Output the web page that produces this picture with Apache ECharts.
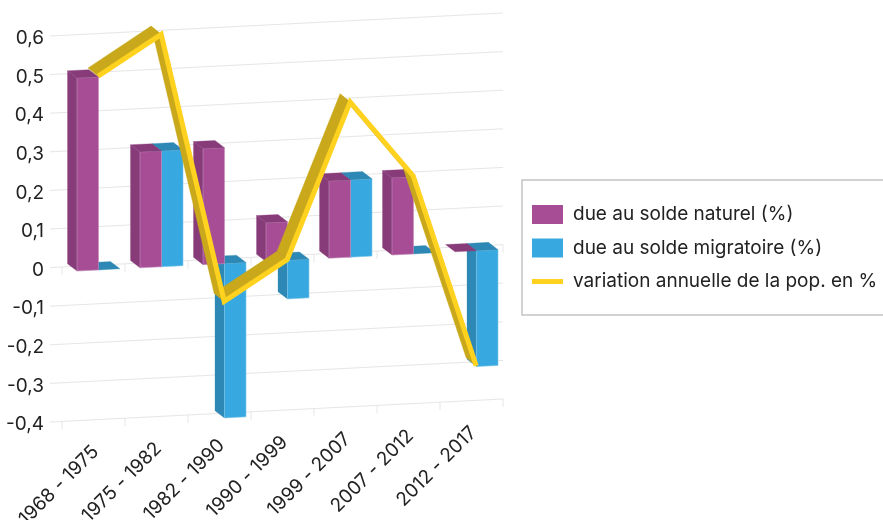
<!DOCTYPE html>
<html>
<head>
<meta charset="utf-8">
<style>
  html, body { margin: 0; padding: 0; background: #fff; }
  #chart { width: 883px; height: 520px; }
</style>
<script src="https://cdn.jsdelivr.net/npm/echarts@6/dist/echarts.min.js"></script>
</head>
<body>
<div id="chart"></div>
<script>
var categories = ['1968 - 1975', '1975 - 1982', '1982 - 1990', '1990 - 1999', '1999 - 2007', '2007 - 2012', '2012 - 2017']
var naturel = [0.5, 0.3, 0.3, 0.1, 0.2, 0.2, 0]
var migratoire = [0, 0.3, -0.4, -0.1, 0.2, 0, -0.3]
var variation = [0.5, 0.6, -0.1, 0, 0.4, 0.2, -0.3]
var valueTicks = [-0.4, -0.3, -0.2, -0.1, 0, 0.1, 0.2, 0.3, 0.4, 0.5, 0.6]
var tickedLines = [0, -0.4]

var fontFamily = 'Inter, "Noto Sans", sans-serif'
var textColor = '#222222'
var SLOPE = 0.0508 // the floor and the wall climb to the right
var FRONT = 4.8 // how far below the wall the bars stand
var DEPTH_X = -9.5
var DEPTH_Y = -7.3
var RIBBON_X = -11
var RIBBON_Y = -9
var BAR_W = 21.5
var BAR_SPLIT = 5

var colors = {
  purple: '#a64d96', purpleDark: '#873c79',
  blue: '#37a8e0', blueDark: '#2e88b5',
  yellow: '#ffd21f', yellowDark: '#c9a91b',
  grid: '#e6e6e6'
}

function shear(x, y, left) {
  return y - SLOPE * (x - left)
}

function front(api, params, cat, val, dx) {
  var p = api.coord([cat, val])
  var x = p[0] + dx
  return [x, shear(x, p[1], params.coordSys.x) + FRONT]
}

function back(p) {
  return [p[0] + DEPTH_X, p[1] + DEPTH_Y]
}

function poly(points, fill, stroke) {
  return {
    type: 'polygon',
    shape: { points: points },
    style: { fill: fill, stroke: stroke || fill, lineWidth: stroke ? 0.6 : 0.3 }
  }
}

function barRenderer(dxLeft, fill, dark, edge) {
  return function(params, api) {
    var cat = api.value(0)
    var val = api.value(1)
    var topVal = Math.max(val, 0)
    var botVal = Math.min(val, 0)
    var tl = front(api, params, cat, topVal, dxLeft)
    var tr = front(api, params, cat, topVal, dxLeft + BAR_W)
    var bl = front(api, params, cat, botVal, dxLeft)
    var br = front(api, params, cat, botVal, dxLeft + BAR_W)
    var children = []
    if (val !== 0) {
      children.push(poly([back(tl), tl, bl, back(bl)], dark))
      children.push(poly([tl, tr, br, bl], fill, edge))
    }
    children.push(poly([back(tl), back(tr), tr, tl], dark))
    return { type: 'group', children: children }
  }
}

function gridRenderer(params, api) {
  var v = api.value(1)
  var sys = params.coordSys
  var y = api.coord([0, v])[1]
  var xStart = sys.x - 12
  var xEnd = sys.x + sys.width
  var children = [{
    type: 'line',
    shape: { x1: xStart, y1: shear(xStart, y, sys.x), x2: xEnd, y2: shear(xEnd, y, sys.x) },
    style: { stroke: colors.grid, lineWidth: 1 }
  }]
  if (tickedLines.indexOf(v) >= 0) {
    var step = sys.width / categories.length
    for (var i = 0; i <= categories.length; i++) {
      var x = sys.x + i * step
      children.push({
        type: 'line',
        shape: { x1: x, y1: shear(x, y, sys.x), x2: x, y2: shear(x, y, sys.x) + 8 },
        style: { stroke: colors.grid, lineWidth: 1 }
      })
    }
  }
  return { type: 'group', children: children }
}

function ribbonRenderer(params, api) {
  if (params.dataIndex > 0) {
    return null
  }
  var pts = variation.map(function(v, i) {
    return front(api, params, i, v, BAR_SPLIT + 0.5)
  })
  var children = []
  for (var i = 0; i < pts.length - 1; i++) {
    var a = pts[i]
    var b = pts[i + 1]
    children.push(poly([[a[0] + RIBBON_X, a[1] + RIBBON_Y], a, b, [b[0] + RIBBON_X, b[1] + RIBBON_Y]], colors.yellowDark))
  }
  children.push({
    type: 'polyline',
    shape: { points: pts.map(function(p) { return [p[0] - 0.8, p[1] - 0.8] }) },
    style: { fill: 'none', stroke: colors.yellow, lineWidth: 5, lineJoin: 'miter' }
  })
  return { type: 'group', children: children }
}

function labelRenderer(params, api) {
  var i = api.value(0)
  var p = api.coord([i, -0.4])
  var x = p[0] + 2
  return {
    type: 'text',
    x: x,
    y: shear(x, p[1], params.coordSys.x) + 29,
    rotation: Math.PI / 4,
    style: {
      text: categories[i],
      fill: textColor,
      fontSize: 19,
      fontFamily: fontFamily,
      align: 'right',
      verticalAlign: 'middle'
    }
  }
}

function pairs(values) {
  return values.map(function(v, i) { return [i, v] })
}

var chart = echarts.init(document.getElementById('chart'))
chart.setOption({
  animation: false,
  backgroundColor: '#ffffff',
  grid: { left: 62, right: 380, top: 35.4, height: 386, containLabel: false },
  xAxis: {
    type: 'category',
    data: categories,
    axisLine: { show: false },
    axisTick: { show: false },
    axisLabel: { show: false },
    splitLine: { show: false }
  },
  yAxis: {
    type: 'value',
    min: -0.4,
    max: 0.6,
    interval: 0.1,
    axisLine: { show: false },
    axisTick: { show: false },
    splitLine: { show: false },
    axisLabel: {
      margin: 18,
      color: textColor,
      fontSize: 19,
      fontFamily: fontFamily,
      verticalAlign: 'top',
      lineHeight: 6,
      formatter: function(v) {
        return String(Math.round(v * 10) / 10).replace('.', ',')
      }
    }
  },
  legend: {
    left: 522,
    top: 180,
    orient: 'vertical',
    padding: [25, 40, 24, 10],
    borderColor: '#c4c4c4',
    borderWidth: 1.5,
    itemWidth: 31,
    itemHeight: 19,
    itemGap: 14.5,
    textStyle: { fontSize: 19, fontFamily: fontFamily, color: textColor, padding: [0, 0, 0, 5] },
    data: [
      { name: 'due au solde naturel (%)', icon: 'rect' },
      { name: 'due au solde migratoire (%)', icon: 'rect' },
      { name: 'variation annuelle de la pop. en %', icon: 'path://M0 0H31V5H0Z' }
    ]
  },
  series: [
    {
      type: 'custom',
      silent: true,
      renderItem: gridRenderer,
      data: valueTicks.map(function(v) { return [0, v] }),
      encode: { x: 0, y: 1 }
    },
    {
      type: 'custom',
      silent: true,
      renderItem: labelRenderer,
      data: pairs(categories.map(function() { return -0.4 })),
      encode: { x: 0, y: 1 }
    },
    {
      name: 'due au solde migratoire (%)',
      type: 'custom',
      silent: true,
      itemStyle: { color: colors.blue },
      renderItem: barRenderer(BAR_SPLIT, colors.blue, colors.blueDark, '#7cc6ea'),
      data: pairs(migratoire),
      encode: { x: 0, y: 1 }
    },
    {
      name: 'due au solde naturel (%)',
      type: 'custom',
      silent: true,
      itemStyle: { color: colors.purple },
      renderItem: barRenderer(BAR_SPLIT - BAR_W, colors.purple, colors.purpleDark, '#c48dba'),
      data: pairs(naturel),
      encode: { x: 0, y: 1 }
    },
    {
      name: 'variation annuelle de la pop. en %',
      type: 'custom',
      silent: true,
      itemStyle: { color: colors.yellow },
      renderItem: ribbonRenderer,
      data: pairs(variation),
      encode: { x: 0, y: 1 }
    }
  ]
})
</script>
</body>
</html>
